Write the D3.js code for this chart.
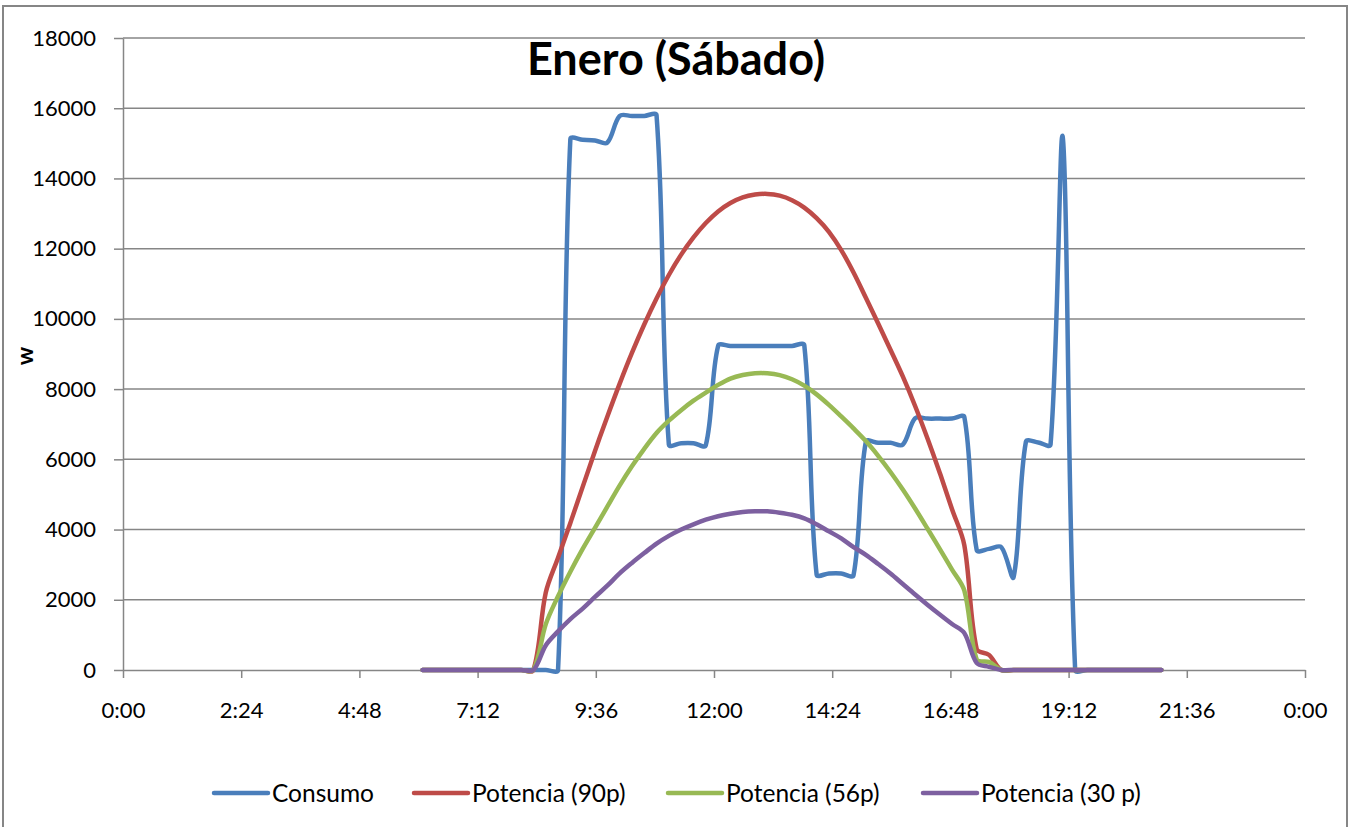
<!DOCTYPE html>
<html lang='es'>

<head>
    <meta charset='UTF-8'>
    <title>Enero (Sábado)</title>
    <script src="https://cdn.jsdelivr.net/npm/d3@7"></script>
    <style>
        body { margin: 0; background: #ffffff; }
        text { font-family: Lato, "Open Sans", sans-serif; }
    </style>
</head>

<body>
    <svg class="chart"></svg>
</body>
<script>
    /**
     * datos: horas (cada 15 min) y series en W
     */
    const times = [
        "6:05", "6:20", "6:35", "6:50", "7:05", "7:20", "7:35", "7:50", "8:05", "8:20",
        "8:35", "8:50", "9:05", "9:20", "9:35", "9:50", "10:05", "10:20", "10:35", "10:50",
        "11:05", "11:20", "11:35", "11:50", "12:05", "12:20", "12:35", "12:50", "13:05", "13:20",
        "13:35", "13:50", "14:05", "14:20", "14:35", "14:50", "15:05", "15:20", "15:35", "15:50",
        "16:05", "16:20", "16:35", "16:50", "17:05", "17:20", "17:35", "17:50", "18:05", "18:20",
        "18:35", "18:50", "19:05", "19:20", "19:35", "19:50", "20:05", "20:20", "20:35", "20:50",
        "21:05"
    ];

    const consumo = [
        0, 0, 0, 0, 0, 0, 0, 0, 0, 0,
        0, 0, 15120, 15100, 15080, 15020, 15780, 15780, 15780, 15800,
        6420, 6460, 6460, 6400, 9230, 9230, 9230, 9230, 9230, 9230,
        9230, 9250, 2720, 2750, 2750, 2700, 6500, 6470, 6470, 6420,
        7170, 7160, 7160, 7160, 7200, 3420, 3450, 3500, 2650, 6500,
        6480, 6420, 15150, 0, 0, 0, 0, 0, 0, 0,
        0
    ];

    const potencia90 = [
        0, 0, 0, 0, 0, 0, 0, 0, 0, 0,
        2200, 3200, 4190, 5215, 6240, 7215, 8150, 9030, 9840, 10580,
        11250, 11830, 12320, 12730, 13060, 13300, 13460, 13540, 13560, 13510,
        13380, 13170, 12870, 12480, 11960, 11320, 10600, 9870, 9120, 8360,
        7520, 6600, 5620, 4580, 3550, 600, 430, 0, 0, 0,
        0, 0, 0, 0, 0, 0, 0, 0, 0, 0,
        0
    ];

    const potencia56 = [
        0, 0, 0, 0, 0, 0, 0, 0, 0, 0,
        1300, 2100, 2800, 3450, 4050, 4650, 5250, 5800, 6300, 6750,
        7100, 7400, 7670, 7900, 8120, 8300, 8400, 8450, 8450, 8400,
        8280, 8100, 7850, 7550, 7220, 6880, 6520, 6100, 5640, 5140,
        4600, 4030, 3450, 2860, 2260, 300, 230, 0, 0, 0,
        0, 0, 0, 0, 0, 0, 0, 0, 0, 0,
        0
    ];

    const potencia30 = [
        0, 0, 0, 0, 0, 0, 0, 0, 0, 0,
        700, 1100, 1450, 1750, 2080, 2400, 2750, 3050, 3330, 3600,
        3820, 4000, 4150, 4280, 4380, 4450, 4500, 4520, 4520, 4480,
        4420, 4320, 4150, 3950, 3750, 3500, 3280, 3020, 2750, 2450,
        2150, 1860, 1580, 1310, 1050, 200, 90, 0, 0, 0,
        0, 0, 0, 0, 0, 0, 0, 0, 0, 0,
        0
    ];

    const seriesNames = ["Consumo", "Potencia (90p)", "Potencia (56p)", "Potencia (30 p)"];
    const seriesColors = ["#4a7ebb", "#be4b48", "#98b954", "#7d60a0"];
    const seriesValues = [consumo, potencia90, potencia56, potencia30];

    const xTickValues = [0, 2.4, 4.8, 7.2, 9.6, 12, 14.4, 16.8, 19.2, 21.6, 24];
    const xTickLabels = ["0:00", "2:24", "4:48", "7:12", "9:36", "12:00", "14:24", "16:48", "19:12", "21:36", "0:00"];
    const yTickValues = [0, 2000, 4000, 6000, 8000, 10000, 12000, 14000, 16000, 18000];

    /**
     * configuración básica
     */
    const svgWidth = 1352;
    const svgHeight = 827;
    const plot = { left: 123, right: 1305, top: 38, bottom: 670 };
    const gridColor = "#868686";

    const svg = d3.select(".chart")
        .attr("width", svgWidth)
        .attr("height", svgHeight);

    // marco del gráfico
    svg.append("rect")
        .attr("x", 3).attr("y", 6)
        .attr("width", 1344).attr("height", 840)
        .attr("fill", "#ffffff")
        .attr("stroke", gridColor)
        .attr("stroke-width", 2);

    const toHours = s => { const p = s.split(":"); return +p[0] + p[1] / 60; };

    const x = d3.scaleLinear().domain([0, 24]).range([plot.left, plot.right]);
    const y = d3.scaleLinear().domain([0, 18000]).range([plot.bottom, plot.top]);

    /**
     * curva suavizada tipo Excel: bezier cuyos puntos de control se
     * escalan según la longitud de los segmentos vecinos
     */
    function curveSmooth(context) {
        let pts;
        return {
            areaStart() {}, areaEnd() {},
            lineStart() { pts = []; },
            point(px, py) { pts.push([+px, +py]); },
            lineEnd() {
                const n = pts.length;
                if (!n) return;
                const dist = (a, b) => Math.hypot(b[0] - a[0], b[1] - a[1]);
                context.moveTo(pts[0][0], pts[0][1]);
                for (let i = 0; i < n - 1; i++) {
                    const p0 = pts[Math.max(i - 1, 0)], p1 = pts[i], p2 = pts[i + 1], p3 = pts[Math.min(i + 2, n - 1)];
                    const d01 = dist(p0, p1), d12 = dist(p1, p2), d23 = dist(p2, p3);
                    const f1 = d01 + d12 > 0 ? d12 / (d01 + d12) / 3 : 0;
                    const f2 = d12 + d23 > 0 ? d12 / (d12 + d23) / 3 : 0;
                    context.bezierCurveTo(
                        p1[0] + (p2[0] - p0[0]) * f1, p1[1] + (p2[1] - p0[1]) * f1,
                        p2[0] - (p3[0] - p1[0]) * f2, p2[1] - (p3[1] - p1[1]) * f2,
                        p2[0], p2[1]);
                }
            }
        };
    }

    // líneas de cuadrícula
    svg.append("g")
        .selectAll("line")
        .data(yTickValues.filter(d => d > 0))
        .join("line")
        .attr("x1", plot.left).attr("x2", plot.right)
        .attr("y1", d => y(d)).attr("y2", d => y(d))
        .attr("stroke", gridColor)
        .attr("stroke-width", 1.5);

    // eje Y
    const yAxis = svg.append("g")
        .attr("transform", `translate(${plot.left},0)`)
        .call(d3.axisLeft(y).tickValues(yTickValues).tickSize(9).tickSizeOuter(0).tickPadding(18)
            .tickFormat(d3.format("d")));
    yAxis.select(".domain").attr("stroke", gridColor).attr("stroke-width", 1.5);
    yAxis.selectAll(".tick line").attr("stroke", gridColor).attr("stroke-width", 1.5);
    yAxis.selectAll(".tick text")
        .attr("font-size", 22)
        .attr("font-family", "Lato")
        .attr("fill", "#000");

    // eje X
    const xAxis = svg.append("g")
        .attr("transform", `translate(0,${plot.bottom})`)
        .call(d3.axisBottom(x).tickValues(xTickValues).tickSize(8).tickSizeOuter(0).tickPadding(24)
            .tickFormat((d, i) => xTickLabels[i]));
    xAxis.select(".domain").attr("stroke", gridColor).attr("stroke-width", 1.5);
    xAxis.selectAll(".tick line").attr("stroke", gridColor).attr("stroke-width", 1.5);
    xAxis.selectAll(".tick text")
        .attr("font-size", 22)
        .attr("font-family", "Lato")
        .attr("fill", "#000");

    // series
    const line = d3.line()
        .x((d, i) => x(toHours(times[i])))
        .y(d => y(d))
        .curve(curveSmooth);

    svg.append("g")
        .selectAll("path")
        .data(seriesValues)
        .join("path")
        .attr("d", line)
        .attr("fill", "none")
        .attr("stroke", (d, i) => seriesColors[i])
        .attr("stroke-width", 4.5)
        .attr("stroke-linejoin", "round")
        .attr("stroke-linecap", "round");

    // título
    svg.append("text")
        .attr("x", 676).attr("y", 75)
        .attr("text-anchor", "middle")
        .attr("font-size", 45)
        .attr("font-weight", "bold")
        .text("Enero (Sábado)");

    // título eje Y
    svg.append("text")
        .attr("transform", "translate(33,356) rotate(-90)")
        .attr("text-anchor", "middle")
        .attr("font-size", 23)
        .attr("font-weight", "bold")
        .text("w");

    // leyenda
    const legendX = [214, 414, 668, 923];
    const legend = svg.append("g")
        .selectAll("g")
        .data(seriesNames)
        .join("g")
        .attr("transform", (d, i) => `translate(${legendX[i]},793)`);
    legend.append("line")
        .attr("x1", 0).attr("x2", 54)
        .attr("stroke", (d, i) => seriesColors[i])
        .attr("stroke-width", 4.5)
        .attr("stroke-linecap", "round");
    legend.append("text")
        .attr("x", 58).attr("dy", "0.35em")
        .attr("font-size", 24.5)
        .text(d => d);

</script>

</html>
